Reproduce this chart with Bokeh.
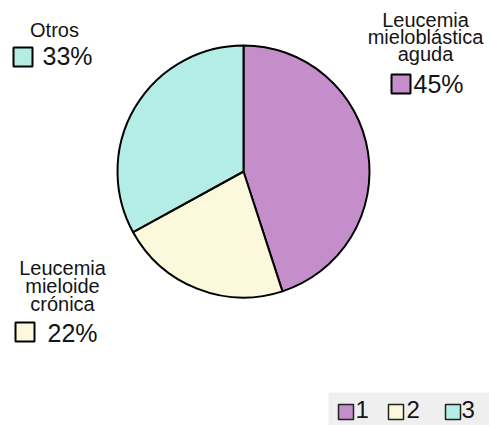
import numpy as np
from bokeh.plotting import figure
from bokeh.models import Range1d
from bokeh.core.properties import value
from bokeh.embed import file_html
from bokeh.resources import INLINE

# ---- data ----
categories = ["Leucemia mieloblástica aguda", "Leucemia mieloide crónica", "Otros"]
label_lines = [["Leucemia", "mieloblástica", "aguda"],
               ["Leucemia", "mieloide", "crónica"],
               ["Otros"]]
percentages = [45, 22, 33]
colors = ["#c38ec9", "#fbf8dc", "#b4ece6"]
legend_keys = ["1", "2", "3"]

W, H = 489, 425
FONT = value("Liberation Sans")
TXT = "#151515"

def Y(y):
    return H - y

def TB(y, size):
    # baseline correction (rendered baseline sits lower than requested)
    return H - (y - 0.4 * size)

p = figure(width=W, height=H, output_backend="svg", toolbar_location=None,
           x_range=Range1d(0, W), y_range=Range1d(0, H),
           x_axis_location=None, y_axis_location=None, min_border=0)
p.grid.visible = False
p.outline_line_color = None
p.background_fill_color = "white"
p.border_fill_color = "white"

# ---- pie ----
vals = np.array(percentages, dtype=float)
cum = np.cumsum(vals) / vals.sum()
before = np.concatenate([[0.0], cum[:-1]])
start = 90 - 360 * before
end = 90 - 360 * cum
cx, cy, r = 243, Y(171), 126
p.wedge(x=[cx] * 3, y=[cy] * 3, radius=r, start_angle=start, end_angle=end,
        start_angle_units="deg", end_angle_units="deg", direction="clock",
        fill_color=colors, line_color="black", line_width=2)

# ---- slice labels ----
# layout per slice: (text centre x, first baseline, line step, square left, square top, pct x, pct baseline)
layouts = [
    (425, 27, 17, 391, 74, 413, 93),
    (62, 275, 18, 15, 322, 47, 342),
    (54, 37, 17, 13, 47, 42, 65),
]
for lines, pct, col, (tx, b0, step, sx, sy, px, pb) in zip(label_lines, percentages, colors, layouts):
    p.text(x=[tx] * len(lines), y=[TB(b0 + i * step, 20) for i in range(len(lines))], text=lines,
           text_font=FONT, text_font_size=value("20px"), text_align="center",
           text_baseline="alphabetic", text_color=TXT)
    p.quad(left=[sx], right=[sx + 19], top=[Y(sy)], bottom=[Y(sy + 19)],
           fill_color=col, line_color="black", line_width=2)
    p.text(x=[px], y=[TB(pb, 25)], text=[f"{pct}%"], text_font=FONT,
           text_font_size=value("25px"), text_align="left",
           text_baseline="alphabetic", text_color=TXT)

# ---- bottom legend ----
p.quad(left=[328], right=[W], top=[Y(392)], bottom=[0], fill_color="#efefef", line_color=None)
leg_sq = [338, 388, 445]
leg_tx = [355, 406, 461]
p.quad(left=leg_sq, right=[s + 15 for s in leg_sq], top=[Y(404)] * 3, bottom=[Y(419)] * 3,
       fill_color=colors, line_color="#222222", line_width=1.5)
p.text(x=leg_tx, y=[TB(419, 24)] * 3, text=legend_keys, text_font=FONT,
       text_font_size=value("24px"), text_align="left", text_baseline="alphabetic",
       text_color=TXT)

open("out.html", "w").write(file_html(p, INLINE))
